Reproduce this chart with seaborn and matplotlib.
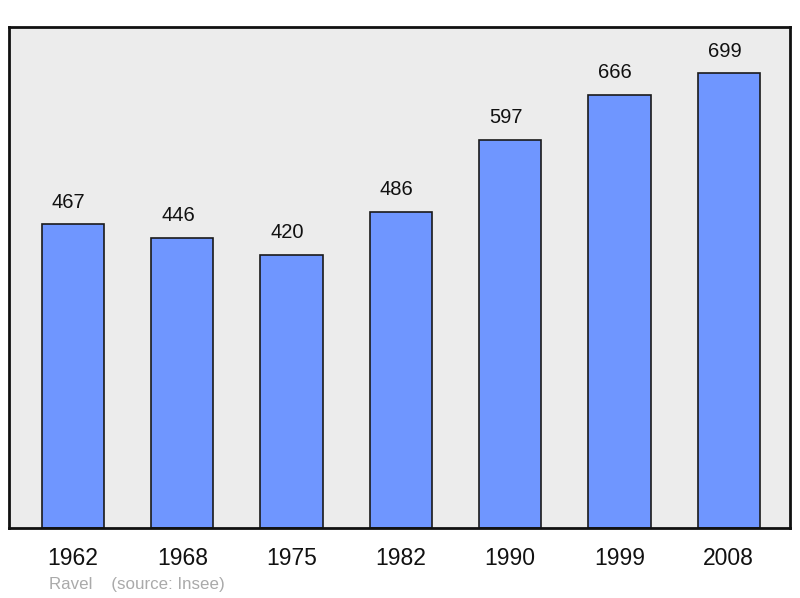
import numpy as np
import pandas as pd
import matplotlib
matplotlib.use('Agg')
import matplotlib.pyplot as plt
import seaborn as sns

# population data (Ravel, source Insee)
years = ['1962', '1968', '1975', '1982', '1990', '1999', '2008']
population = [467, 446, 420, 486, 597, 666, 699]

df = pd.DataFrame({'Year': years, 'Population': population})

sns.set_style('white')
plt.rcParams['font.family'] = ['Liberation Sans', 'DejaVu Sans']

fig = plt.figure(figsize=(8, 5.98), dpi=100)
ax = fig.add_axes([9 / 800, 70 / 598, 781 / 800, 501 / 598])
ax.set_facecolor('#ececec')

sns.barplot(data=df, x='Year', y='Population', color='#6f96ff', saturation=1,
            width=0.57, edgecolor='#1a1a1a', linewidth=1.2, ax=ax)

# value labels, sitting a little left of centre like the original
for p in ax.patches:
    h = p.get_height()
    ax.annotate(f'{h:.0f}', (p.get_x() + p.get_width() / 2, h),
                xytext=(-3, 9), textcoords='offset points',
                ha='center', va='bottom', fontsize=14.5, color='#111111')

ax.set_xlim(-0.585, 6.56)
ax.set_ylim(0, 770)
ax.set_yticks([])
ax.set_xlabel('')
ax.set_ylabel('')
ax.tick_params(axis='x', length=0, pad=14, labelsize=16.5, labelcolor='#111111')

for s in ax.spines.values():
    s.set_visible(True)
    s.set_color('#111111')
    s.set_linewidth(2)

fig.text(49 / 800, 14 / 598, 'Ravel    (source: Insee)', fontsize=12.2,
         color='#aaaaaa', va='center', ha='left')

fig.savefig('out.png', dpi=100)
